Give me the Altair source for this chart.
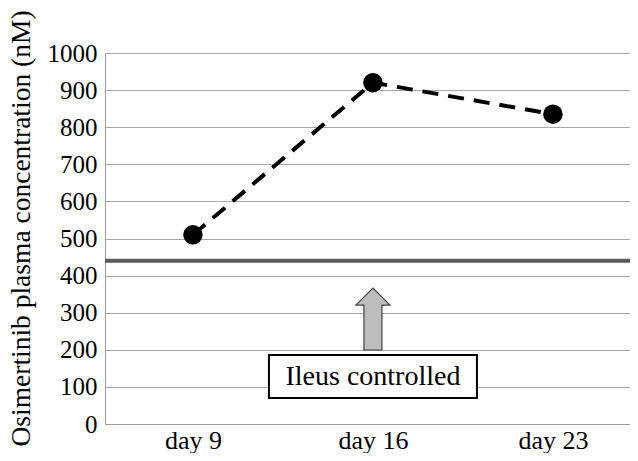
import altair as alt
import pandas as pd

days = ["day 9", "day 16", "day 23"]
conc = [510, 920, 835]
threshold = [440]
arrow_day = ["day 16"]
arrow_mid = [283]
box_low = [70]
box_high = [186]
box_label = ["Ileus controlled"]

FONT = "Liberation Serif"
YTITLE = "Osimertinib plasma concentration (nM)"

df = pd.DataFrame({"day": days, "conc": conc})
thr = pd.DataFrame({"day": arrow_day, "y": threshold})
arr = pd.DataFrame({"day": arrow_day, "y": arrow_mid})
box = pd.DataFrame({"day": arrow_day, "lo": box_low, "hi": box_high,
                    "mid": [(box_low[0] + box_high[0]) / 2], "label": box_label})

xscale = alt.Scale(type="point", padding=0.4583, align=0.533)
yscale = alt.Scale(domain=[0, 1000])
xaxis = alt.Axis(title=None, labelAngle=0, grid=False, labelPadding=3, labelFontSize=26)
yaxis = alt.Axis(title=YTITLE, values=list(range(0, 1001, 100)), format="d", labelPadding=8,
                 labelFontSize=25,
                 titleX=-84, titleY=175, titleAngle=-90, titleAlign="center", titleBaseline="middle")


def X():
    return alt.X("day:N", sort=days, scale=xscale, axis=xaxis)


def Y(field):
    return alt.Y(field, scale=yscale, axis=yaxis)


base = alt.Chart(df)

line = base.mark_line(color="black", strokeWidth=4, strokeDash=[16, 10]).encode(x=X(), y=Y("conc:Q"))
pts = base.mark_point(filled=True, color="black", size=380, opacity=1).encode(x=X(), y=Y("conc:Q"))

rule = alt.Chart(thr).mark_rule(color="#5a5a5a", strokeWidth=4).encode(y=Y("y:Q"))

arrow_path = "M0,-1 L0.55,-0.45 L0.29,-0.45 L0.29,1 L-0.29,1 L-0.29,-0.45 L-0.55,-0.45 Z"
arrow = alt.Chart(arr).mark_point(shape=arrow_path, filled=True, fill="#bdbdbd", stroke="#444444",
                                  strokeWidth=1.2, size=3844, opacity=1).encode(x=X(), y=Y("y:Q"))

rect = alt.Chart(box).mark_bar(size=208, fill="white", stroke="black", strokeWidth=2).encode(
    x=X(), y=Y("lo:Q"), y2="hi:Q")
txt = alt.Chart(box).mark_text(font=FONT, fontSize=28, color="black").encode(
    x=X(), y=Y("mid:Q"), text="label:N")

chart = alt.layer(line, rule, pts, arrow, rect, txt).properties(
    width=525, height=371,
    autosize=alt.AutoSizeParams(type="none"),
    padding={"left": 97, "top": 45, "right": 0, "bottom": 29},
).configure_view(stroke=None).configure(background="white").configure_axis(
    labelFont=FONT, labelColor="black", ticks=False,
    titleFont=FONT, titleFontSize=27.5, titleFontWeight="normal", titleColor="black",
    domainColor="#9a9a9a", gridColor="#a8a8a8", gridWidth=1.2,
)

chart.save("out.html", embed_options={"renderer": "svg", "actions": False})
